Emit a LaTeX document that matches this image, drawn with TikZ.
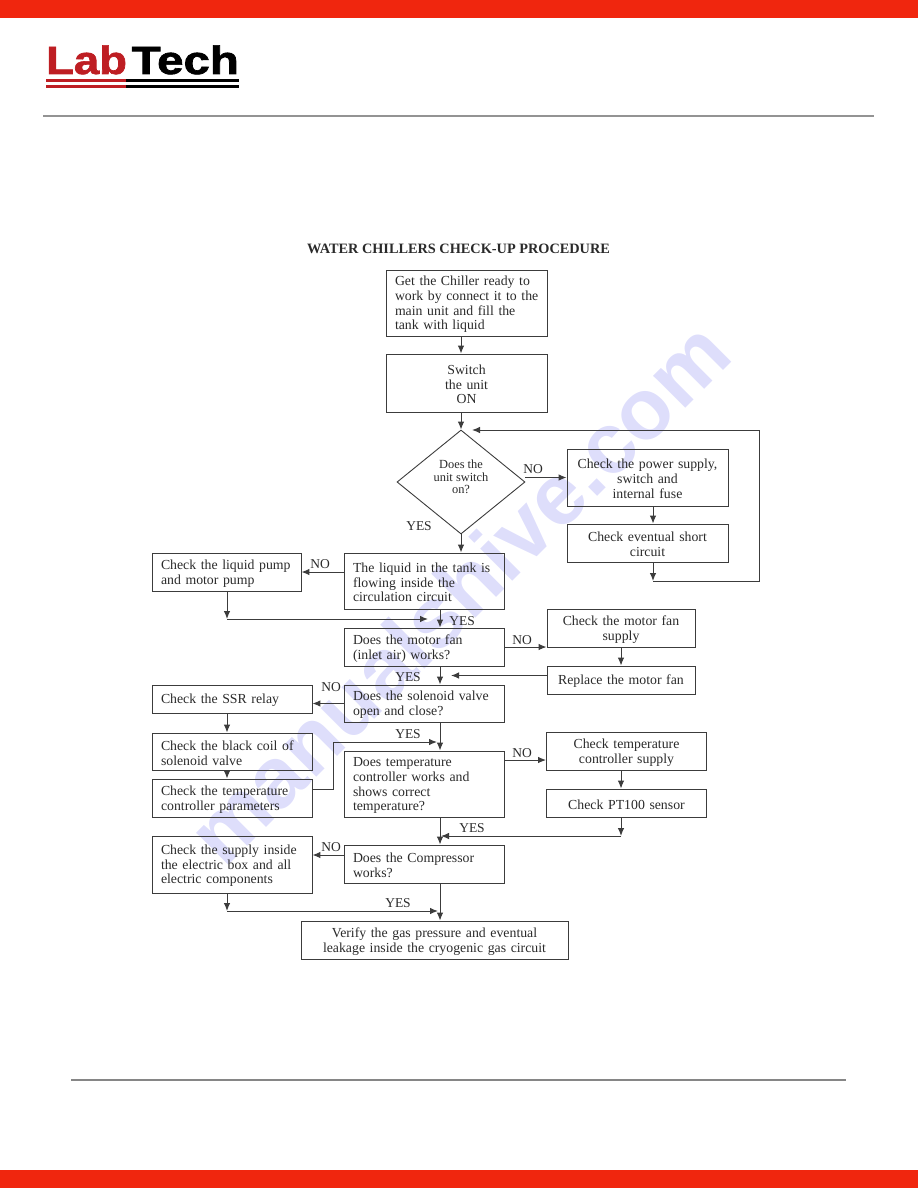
\documentclass[tikz,border=0pt]{standalone}
\usepackage{fontspec}
\usepackage{tikz}
\usetikzlibrary{arrows.meta}
\usetikzlibrary{shapes.geometric}
\setmainfont{Liberation Serif}
\newfontfamily\logofont[FakeBold=1.6]{Liberation Sans Bold}
\newfontfamily\markfont{Liberation Sans Bold}

\definecolor{bandred}{HTML}{F0260E}
\definecolor{logored}{HTML}{BE1E23}
\definecolor{markblue}{HTML}{DEDEFB}
\definecolor{inkgray}{HTML}{2A2A2A}
\definecolor{edgegray}{HTML}{3C3C3C}

\tikzset{
    boxtext/.style={draw=edgegray, line width=0.9pt, inner ysep=0pt, inner xsep=9pt, text=inkgray,
        font=\fontsize{13.8}{14.7}\selectfont, execute at begin node={\leavevmode\vrule width 0pt height 12.5pt\relax}},
    leftbox/.style={boxtext, align=left},
    midbox/.style={boxtext, align=center},
    decision/.style={draw=edgegray, line width=0.9pt, diamond, aspect=1.23, inner sep=0pt},
    answer/.style={text=inkgray, inner sep=0pt, font=\fontsize{13.5}{14}\selectfont},
    flow/.style={draw=edgegray, line width=1pt, ->},
}

\begin{document}
\begin{tikzpicture}[x=1pt, y=-1pt, >={Latex[length=8pt,width=6.5pt]}]
    \useasboundingbox (0,0) rectangle (918,1188);

    % page furniture
    \fill[bandred] (0,0) rectangle (918,18);
    \fill[bandred] (0,1170) rectangle (918,1188);
    \draw[gray!85, line width=1.6pt] (43,116) -- (874,116);
    \draw[gray!95, line width=1.4pt] (71,1080) -- (846,1080);

    % logo
    \node[anchor=base west, inner sep=0pt, text=logored, font=\logofont\fontsize{39.5}{41}\selectfont] (lab) at (46,74) {\scalebox{1.15}[1]{Lab}};
    \node[anchor=base west, inner sep=0pt, font=\logofont\fontsize{39.5}{41}\selectfont] (tech) at (131.5,74) {\scalebox{1.2}[1]{Tech}};
    \fill[logored] (46,79) rectangle (125.5,82);
    \fill[logored] (46,85) rectangle (125.5,88);
    \fill[black] (125.5,79) rectangle (239,82);
    \fill[black] (125.5,85) rectangle (239,88);

    \node[anchor=base, rotate=45, text=markblue, inner sep=0pt, font=\markfont\fontsize{86}{86}\selectfont] (mark) at (480,614) {manualshive.com};

    \node[inner sep=0pt, text=inkgray, font=\bfseries\fontsize{14.3}{15}\selectfont] (title) at (458.5,249) {WATER CHILLERS CHECK-UP PROCEDURE};

    % the vertical lines of the flow
    \coordinate (upper) at (461,0);
    \coordinate (lower) at (440,0);
    \coordinate (leftside) at (227,0);
    \coordinate (fixside) at (621,0);
    \coordinate (powerside) at (653,0);

    \node[leftbox, text width=143pt, minimum height=66pt] (start) at (466.5,303) {Get the Chiller ready to\\\mbox{work by connect it to the}\\main unit and fill the\\tank with liquid};
    \node[midbox, text width=143pt, minimum height=58pt] (switchon) at (466.5,383) {Switch\\the unit\\ON};
    \node[decision, minimum width=128pt, minimum height=104pt] (unit) at (461,482) {};
    \node[inner sep=0pt, align=center, text=inkgray, font=\fontsize{12.4}{12.6}\selectfont] (unittext) at (461,477) {Does the\\unit switch\\on?};
    \node[midbox, text width=143pt, minimum height=57pt] (power) at (647.5,477.5) {Check the power supply,\\switch and\\internal fuse};
    \node[midbox, text width=143pt, minimum height=38pt] (short) at (647.5,543) {Check eventual short\\circuit};

    \node[leftbox, text width=142pt, minimum height=56pt] (liquid) at (424,581) {The liquid in the tank is\\flowing inside the\\circulation circuit};
    \node[leftbox, text width=131pt, minimum height=38pt] (pump) at (226.5,572) {Check the liquid pump\\and motor pump};
    \node[leftbox, text width=142pt, minimum height=38pt] (motorfan) at (424,647) {Does the motor fan\\(inlet air) works?};
    \node[midbox, text width=130pt, minimum height=38pt] (fansupply) at (621,628) {Check the motor fan\\supply};
    \node[midbox, text width=130pt, minimum height=28pt] (replace) at (621,680) {Replace the motor fan};

    \node[leftbox, text width=142pt, minimum height=37pt] (solenoid) at (424,703.5) {Does the solenoid valve\\open and close?};
    \node[leftbox, text width=142pt, minimum height=28pt] (ssr) at (232,699) {Check the SSR relay};
    \node[leftbox, text width=142pt, minimum height=37pt] (coil) at (232,751.5) {Check the black coil of\\solenoid valve};
    \node[leftbox, text width=142pt, minimum height=38pt] (params) at (232,798) {Check the temperature\\controller parameters};

    \node[leftbox, text width=142pt, minimum height=66pt] (tempctrl) at (424,784) {Does temperature\\controller works and\\shows correct\\temperature?};
    \node[midbox, text width=142pt, minimum height=38pt] (tempsupply) at (626.5,751) {Check temperature\\controller supply};
    \node[midbox, text width=142pt, minimum height=28pt] (sensor) at (626.5,803) {Check PT100 sensor};

    \node[leftbox, text width=142pt, minimum height=38pt] (compressor) at (424,864) {Does the Compressor\\works?};
    \node[leftbox, text width=142pt, minimum height=57pt] (elecbox) at (232,864.5) {Check the supply inside\\the electric box and all\\electric components};
    \node[midbox, text width=249pt, minimum height=38pt] (verify) at (434.5,940) {Verify the gas pressure and eventual\\leakage inside the cryogenic gas circuit};

    % answers
    \node[answer] (noa) at (533,469) {NO};
    \node[answer] (yesa) at (419,526) {YES};
    \node[answer] (nob) at (320,564) {NO};
    \node[answer] (yesb) at (462,621) {YES};
    \node[answer] (noc) at (522,640) {NO};
    \node[answer] (yesc) at (408,677) {YES};
    \node[answer] (nod) at (331,687) {NO};
    \node[answer] (yesd) at (408,734) {YES};
    \node[answer] (noe) at (522,753) {NO};
    \node[answer] (yese) at (472,828) {YES};
    \node[answer] (nof) at (331,847) {NO};
    \node[answer] (yesf) at (398,903) {YES};

    % bends
    \coordinate (loopA) at (653,581);
    \coordinate (loopB) at (759,581);
    \coordinate (loopC) at (759,430);
    \coordinate (loopD) at (472,430);
    \coordinate (pumpA) at (227,619);
    \coordinate (pumpB) at (428,619);
    \coordinate (fanin) at (451,675.5);
    \coordinate (paramA) at (333,789);
    \coordinate (paramB) at (333,742);
    \coordinate (paramC) at (437,742);
    \coordinate (sensorA) at (621,836);
    \coordinate (sensorB) at (441,836);
    \coordinate (elecA) at (227,911);
    \coordinate (elecB) at (438,911);
    \coordinate (noTemp) at (504,760);
    \coordinate (noComp) at (344,855);

    \draw[flow] (start.south -| upper) -- (switchon.north -| upper);
    \draw[flow] (switchon.south -| upper) -- (unit.north);
    \draw[flow] (unit.south) -- (liquid.north -| upper);
    \draw[flow] (unit.east |- power.west) -- (power.west);
    \draw[flow] (power.south -| powerside) -- (short.north -| powerside);
    \draw[flow] (short.south -| powerside) -- (loopA);
    \draw[flow] (loopA) -- (loopB) -- (loopC) -- (loopD);

    \draw[flow] (liquid.west |- pump.east) -- (pump.east);
    \draw[flow] (pump.south -| leftside) -- (pumpA);
    \draw[flow] (pumpA) -- (pumpB);
    \draw[flow] (liquid.south -| lower) -- (motorfan.north -| lower);

    \draw[flow] (motorfan.east) -- (motorfan.east -| fansupply.west);
    \draw[flow] (fansupply.south) -- (replace.north);
    \draw[flow] (replace.west |- fanin) -- (fanin);
    \draw[flow] (motorfan.south -| lower) -- (solenoid.north -| lower);

    \draw[flow] (solenoid.west) -- (solenoid.west -| ssr.east);
    \draw[flow] (ssr.south -| leftside) -- (coil.north -| leftside);
    \draw[flow] (coil.south -| leftside) -- (params.north -| leftside);
    \draw[flow] (params.east |- paramA) -- (paramA) -- (paramB) -- (paramC);
    \draw[flow] (solenoid.south -| lower) -- (tempctrl.north -| lower);

    \draw[flow] (noTemp) -- (noTemp -| tempsupply.west);
    \draw[flow] (tempsupply.south -| fixside) -- (sensor.north -| fixside);
    \draw[flow] (sensor.south -| fixside) -- (sensorA);
    \draw[flow] (sensorA) -- (sensorB);
    \draw[flow] (tempctrl.south -| lower) -- (compressor.north -| lower);

    \draw[flow] (noComp) -- (noComp -| elecbox.east);
    \draw[flow] (elecbox.south -| leftside) -- (elecA);
    \draw[flow] (elecA) -- (elecB);
    \draw[flow] (compressor.south -| lower) -- (verify.north -| lower);
\end{tikzpicture}
\end{document}
